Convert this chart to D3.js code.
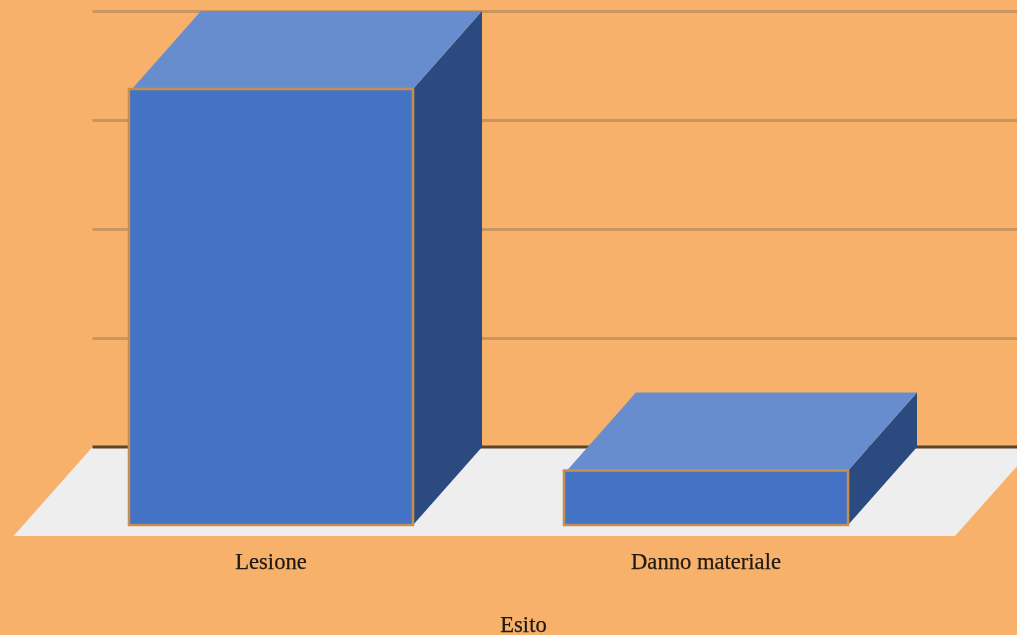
<!DOCTYPE html>
<html>
<head>
<meta charset="utf-8">
<script src="https://cdn.jsdelivr.net/npm/d3@7"></script>
<style>
    html, body { margin: 0; padding: 0; background: #f8b16a; overflow: hidden; }
    svg { display: block; filter: blur(0.7px); }
    text { font-family: "Liberation Serif", serif; fill: #1f1a14; stroke: #1f1a14; stroke-width: 0.25px; }
</style>
</head>
<body>
<div id="chart"></div>
<script>
const categories = ['Lesione', 'Danno materiale'];
const values = [4, 0.5];
const yTicks = [1, 2, 3, 4];
const axisTitle = 'Esito';

const width = 1017;
const height = 635;

// front plane of the bars, the back wall sits one depth up and to the right
const baseY = 525;
const depthX = 69;
const depthY = 78;
// the floor sticks out a bit further than the bars
const floorPad = { x: 10, y: 11 };
// the top face starts just inside the front border on its left side
const topInset = 3;

const x = d3.scaleBand()
    .domain(categories)
    .range([53.5, 923.5])
    .paddingInner(0.347)
    .paddingOuter(0.1735);

const y = d3.scaleLinear()
    .domain([0, 4])
    .range([baseY, baseY - 436]);

const svg = d3.select('#chart')
    .append('svg')
    .attr('width', width)
    .attr('height', height);

svg.append('rect')
    .attr('width', width)
    .attr('height', height)
    .attr('fill', '#f8b16a');

const wallLeft = x.range()[0] + depthX - 30;
const wallRight = width + 20;

// Gridlines on the back wall
svg.selectAll('line.grid')
    .data(yTicks)
    .enter()
    .append('line')
    .attr('class', 'grid')
    .attr('x1', wallLeft)
    .attr('x2', wallRight)
    .attr('y1', d => y(d) - depthY + 0.5)
    .attr('y2', d => y(d) - depthY + 0.5)
    .attr('stroke', '#c9965f')
    .attr('stroke-width', 3);

// Floor
const floorBack = y(0) - depthY;
const floorFront = y(0) + floorPad.y;
const floorLeft = wallLeft - depthX - floorPad.x;
const floorRight = 955;
svg.append('polygon')
    .attr('points', [
        [wallLeft, floorBack],
        [floorRight + wallLeft - floorLeft, floorBack],
        [floorRight, floorFront],
        [floorLeft, floorFront]
    ].join(' '))
    .attr('fill', '#eeeeee');

svg.append('line')
    .attr('x1', wallLeft)
    .attr('x2', wallRight)
    .attr('y1', floorBack)
    .attr('y2', floorBack)
    .attr('stroke', '#5e4426')
    .attr('stroke-width', 3);

// Bars: side, top, then front
const bars = svg.selectAll('g.bar')
    .data(categories.map((c, i) => ({ name: c, value: values[i] })))
    .enter()
    .append('g')
    .attr('class', 'bar');

bars.append('polygon')
    .attr('points', d => {
        const r = x(d.name) + x.bandwidth();
        return [
            [r, y(d.value)],
            [r + depthX, y(d.value) - depthY],
            [r + depthX, y(0) - depthY],
            [r, y(0)]
        ].join(' ');
    })
    .attr('fill', '#2a4a80');

bars.append('polygon')
    .attr('points', d => {
        const l = x(d.name);
        const r = l + x.bandwidth();
        return [
            [l + topInset, y(d.value)],
            [l + depthX + topInset, y(d.value) - depthY],
            [r + depthX, y(d.value) - depthY],
            [r, y(d.value)]
        ].join(' ');
    })
    .attr('fill', '#678dcf');

bars.append('rect')
    .attr('x', d => x(d.name))
    .attr('y', d => y(d.value))
    .attr('width', x.bandwidth())
    .attr('height', d => y(0) - y(d.value))
    .attr('fill', '#4472c4')
    .attr('stroke', '#c68f52')
    .attr('stroke-width', 2.5);

// Category labels
const xAxis = svg.append('g')
    .attr('transform', `translate(0,${floorFront + 17})`)
    .call(d3.axisBottom(x).tickSize(0).tickPadding(0));

xAxis.select('.domain').remove();
xAxis.selectAll('text')
    .attr('font-family', '"Liberation Serif", serif')
    .attr('font-size', 22.6)
    .attr('fill', '#1f1a14')
    .attr('dy', '0.71em');

svg.append('text')
    .attr('x', 523.5)
    .attr('y', 632)
    .attr('text-anchor', 'middle')
    .attr('font-size', 22.6)
    .text(axisTitle);
</script>
</body>
</html>
